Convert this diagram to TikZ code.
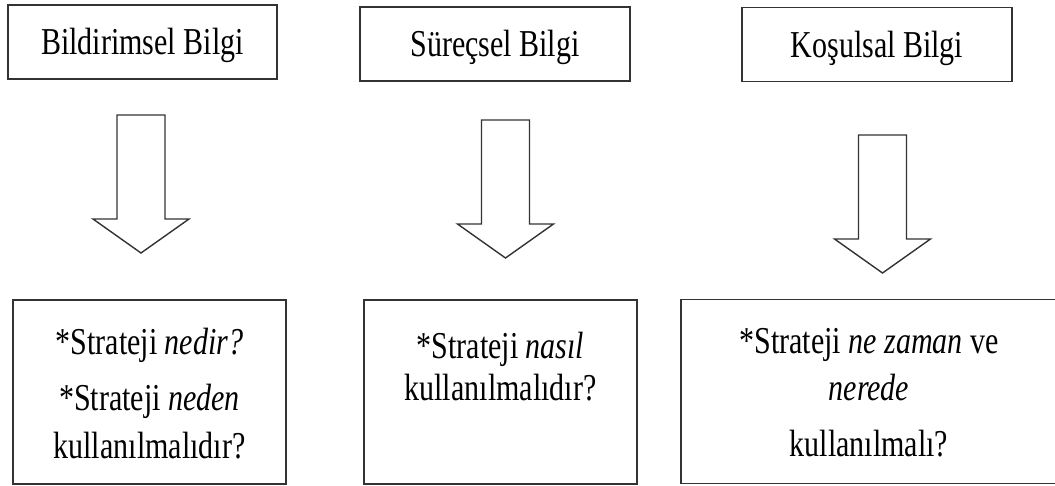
\documentclass[tikz,border=0pt]{standalone}
\usepackage{fontspec}
\setmainfont[FakeStretch=0.79]{Liberation Serif}
\usetikzlibrary{calc}
\begin{document}
\begin{tikzpicture}[x=1pt,y=-1pt,
  frame/.style={draw=black!80, line width=1.4pt, rectangle, inner sep=0pt, fill=white},
  titlebox/.style={frame, minimum width=#1, minimum height=74pt,
    font=\fontsize{38}{46}\selectfont, text height=26pt, text depth=0pt},
  answerbox/.style={frame, minimum width=#1, minimum height=184pt},
  answertext/.style={align=center, inner sep=0pt},
  blockarrow/.style={draw=black!80, line width=1.4pt, fill=white, line join=miter},
  downarrow/.pic={
    \draw[blockarrow] (-24,0) -- (24,0) -- (24,104) -- (48,104) -- (0,138)
      -- (-48,104) -- (-24,104) -- cycle;
  }
]
\useasboundingbox (0,0) rectangle (1055,486);

% title boxes
\node[titlebox=269pt] (k1) at (142.5,42) {Bildirimsel Bilgi};
\node[titlebox=270pt] (k2) at (495,44) {Süreçsel Bilgi};
\node[titlebox=270pt] (k3) at (877,44.5) {Koşulsal Bilgi};

% answer boxes
\node[answerbox=273pt] (b1) at (149.5,392) {};
\node[answerbox=273pt] (b2) at (500.5,392) {};
\node[answerbox=376pt] (b3) at (869,391.5) {};

\node[answertext, font=\fontsize{38}{48}\selectfont] (t1) at (149.5,394)
  {*Strateji \textit{nedir?}\\[8pt] *Strateji \textit{neden}\\ kullanılmalıdır?};
\node[answertext, font=\fontsize{38}{42}\selectfont] (t2) at (500.5,367)
  {*Strateji \textit{nasıl}\\ kullanılmalıdır?};
\node[answertext, font=\fontsize{38}{47}\selectfont] (t3) at (869,392.5)
  {*Strateji \textit{ne zaman} ve\\ \textit{nerede}\\[9pt] kullanılmalı?};

% block arrows
\coordinate (a1) at (141,115);
\coordinate (a2) at (505.5,120);
\coordinate (a3) at (882.5,135);
\pic at (a1) {downarrow};
\pic at (a2) {downarrow};
\pic at (a3) {downarrow};
\end{tikzpicture}
\end{document}
